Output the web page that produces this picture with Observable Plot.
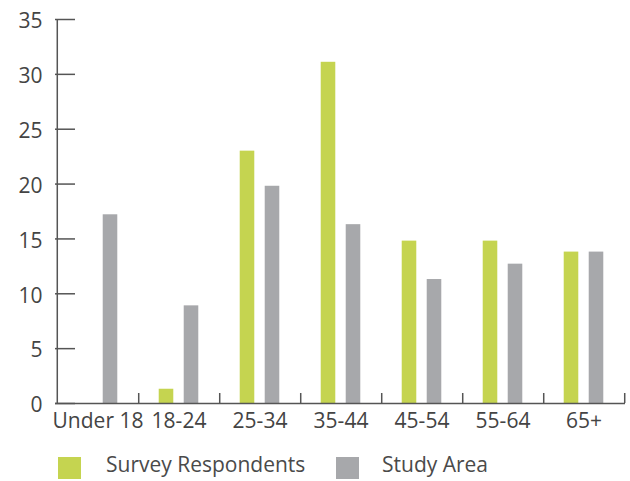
<!DOCTYPE html>
<html><head><meta charset="utf-8">
<script src="https://cdn.jsdelivr.net/npm/d3@7"></script>
<script src="https://cdn.jsdelivr.net/npm/@observablehq/plot@0.6"></script>
<style>
body{margin:0;background:#fff;font-family:"Open Sans",sans-serif;}
#legend{position:relative;height:41px;font-size:21px;color:#4a4a4a;}
.sw{position:absolute;top:17px;width:23px;height:22px;}
.lt{position:absolute;top:14px;line-height:21px;white-space:nowrap;}
</style></head><body><div id="chart"></div><div id="legend"></div>
<script>
const ageGroups = ["Under 18","18-24","25-34","35-44","45-54","55-64","65+"];
const surveyRespondents = [0,1.3,23,31.1,14.8,14.8,13.8];
const studyArea = [17.2,8.9,19.8,16.3,11.3,12.7,13.8];
const seriesNames = ["Survey Respondents","Study Area"];
const seriesColors = ["#c5d450","#a7a8ab"];
const yTicks = [0,5,10,15,20,25,30,35];

const width = 630, height = 440;
const marginLeft = 55, marginRight = 5, marginTop = 19, marginBottom = 37;
const bw = (width - marginLeft - marginRight) / ageGroups.length;
const barW = 15, gap = 10;

const survey = ageGroups.map((g,i)=>({group:g, value:surveyRespondents[i]}));
const study = ageGroups.map((g,i)=>({group:g, value:studyArea[i]}));
const axisColor = "#555";
const textColor = "#444";

const chart = Plot.plot({
  width, height, marginLeft, marginRight, marginTop, marginBottom,
  style:{fontFamily:'"Open Sans", sans-serif', fontSize:"21px", color:textColor},
  x:{domain:ageGroups, padding:0},
  y:{domain:[0,35]},
  marks:[
    Plot.barY(survey,{x:"group", y:"value", fill:seriesColors[0], insetLeft:bw/2-barW-gap/2, insetRight:bw/2+gap/2}),
    Plot.barY(study,{x:"group", y:"value", fill:seriesColors[1], insetLeft:bw/2+gap/2, insetRight:bw/2-barW-gap/2}),
    Plot.axisY({ticks:yTicks, tickSize:0, tickPadding:13, dy:2, fill:textColor, fontSize:21, label:null}),
    Plot.axisY({ticks:yTicks, tickSize:-20, text:null, stroke:axisColor, strokeWidth:1.5, label:null}),
    Plot.axisX({tickSize:0, tickPadding:10, fill:textColor, fontSize:21, label:null}),
    Plot.axisX({tickSize:-10, text:null, dx:bw/2, stroke:axisColor, strokeWidth:1.5, label:null}),
    Plot.ruleY([0],{stroke:axisColor, strokeWidth:1.5}),
    Plot.ruleX([0],{x:()=>ageGroups[0], dx:-bw/2, stroke:axisColor, strokeWidth:1.5, y1:0, y2:35})
  ]
});
document.getElementById("chart").appendChild(chart);

const legend = document.getElementById("legend");
const legendPos = [[58,106],[336,382]];
seriesNames.forEach((n,i)=>{
  const s=document.createElement("div"); s.className="sw"; s.style.left=legendPos[i][0]+"px"; s.style.background=seriesColors[i]; legend.appendChild(s);
  const t=document.createElement("div"); t.className="lt"; t.style.left=legendPos[i][1]+"px"; t.textContent=n; legend.appendChild(t);
});
</script></body></html>
